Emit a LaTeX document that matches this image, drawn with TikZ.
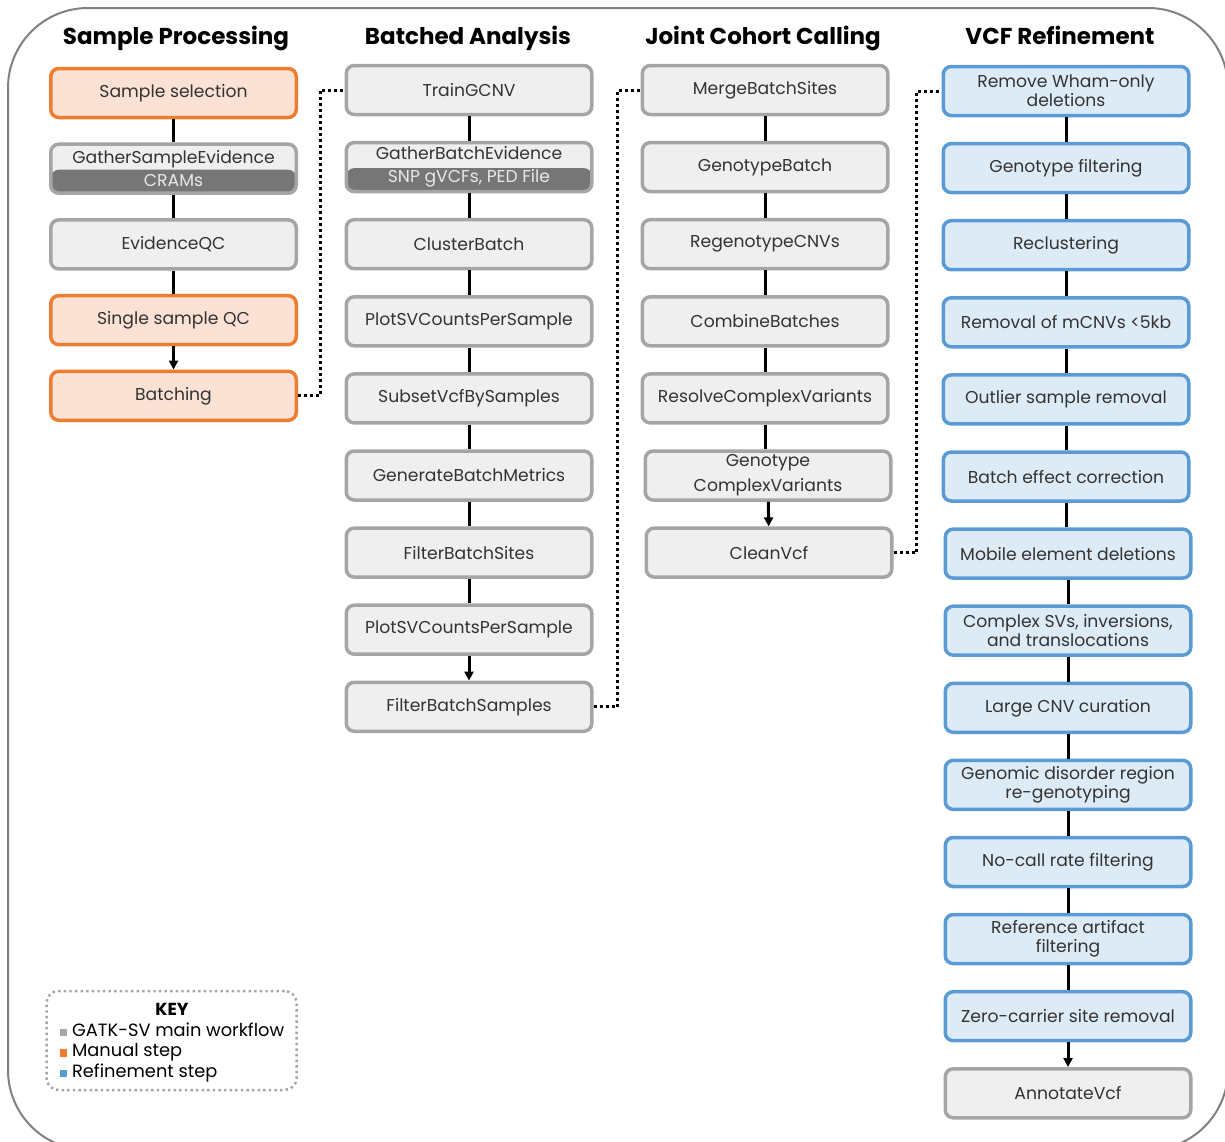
\documentclass[tikz,border=0pt]{standalone}
\usepackage{fontspec}
\setmainfont{Poppins}
\usetikzlibrary{arrows.meta,positioning}

\definecolor{manualedge}{HTML}{ED7D31}
\definecolor{manualfill}{HTML}{FBE2D5}
\definecolor{mainedge}{HTML}{A5A5A5}
\definecolor{mainfill}{HTML}{EFEFEF}
\definecolor{refineedge}{HTML}{5B9BD5}
\definecolor{refinefill}{HTML}{DDEBF7}
\definecolor{bandfill}{HTML}{767676}
\definecolor{bandtext}{HTML}{E8E8E8}
\definecolor{boxtext}{HTML}{333333}
\definecolor{framegray}{HTML}{808080}

\newcommand{\keymark}[1]{\textcolor{#1}{\rule{3.8pt}{3.8pt}}}

\tikzset{
  box/.style={draw, rounded corners=4pt, line width=1.75pt, minimum width=122.75pt,
    minimum height=24.5pt, inner sep=1pt, align=center, text=boxtext,
    font=\fontsize{8.6}{9.5}\selectfont},
  mainbox/.style={box, draw=mainedge, fill=mainfill},
  manualbox/.style={box, draw=manualedge, fill=manualfill},
  refinebox/.style={box, draw=refineedge, fill=refinefill},
  bandbox/.style={mainbox, font=\fontsize{8.6}{11.5}\selectfont,
    path picture={\fill[bandfill] (path picture bounding box.south west)
      rectangle ([yshift=-0.5pt]path picture bounding box.east);}},
  header/.style={font=\bfseries\fontsize{11.5}{13}\selectfont, text height=8.5pt, text depth=2.5pt},
  link/.style={line width=1.5pt},
  arrowlink/.style={link, -{Triangle[length=4.5pt,width=4.5pt]}},
  dotlink/.style={line width=1.5pt, dash pattern=on 1.5pt off 1.5pt},
  keybox/.style={draw=mainedge, line width=1.25pt, dash pattern=on 1.2pt off 1.6pt,
    rounded corners=6pt, minimum width=125pt, minimum height=49.5pt},
}

\begin{document}
\begin{tikzpicture}[x=0.5pt,y=-0.5pt,node distance=12.3pt]
 \useasboundingbox (0,0) rectangle (1225,1141);
 \draw[framegray, line width=1pt, rounded corners=40pt] (8,8) rectangle (1228,1150);
 %HEADERS
 \node[header] (hsp) at (176,38) {Sample Processing};
 \node[header] (hba) at (468,38) {Batched Analysis};
 \node[header] (hjc) at (763,38) {Joint Cohort Calling};
 \node[header] (hvr) at (1060,38) {VCF Refinement};
 %SAMPLE PROCESSING
 \node[manualbox] (sel) at (173.5,93) {Sample selection};
 \node[bandbox, below=11.6pt of sel] (gse) {GatherSampleEvidence\\\textcolor{bandtext}{CRAMs}};
 \node[mainbox, below=11.6pt of gse] (eqc) {EvidenceQC};
 \node[manualbox, below=11.6pt of eqc] (ssqc) {Single sample QC};
 \node[manualbox, below=11.6pt of ssqc] (batch) {Batching};
 %BATCHED ANALYSIS
 \node[mainbox] (tgcnv) at (469,90) {TrainGCNV};
 \node[bandbox, below=of tgcnv] (gbe) {GatherBatchEvidence\\\textcolor{bandtext}{SNP gVCFs, PED File}};
 \node[mainbox, below=of gbe] (clb) {ClusterBatch};
 \node[mainbox, below=of clb] (plota) {PlotSVCountsPerSample};
 \node[mainbox, below=of plota] (subset) {SubsetVcfBySamples};
 \node[mainbox, below=of subset] (gbm) {GenerateBatchMetrics};
 \node[mainbox, below=of gbm] (fsites) {FilterBatchSites};
 \node[mainbox, below=of fsites] (plotb) {PlotSVCountsPerSample};
 \node[mainbox, below=of plotb] (fsamp) {FilterBatchSamples};
 %JOINT COHORT CALLING
 \node[mainbox] (mbs) at (765,90) {MergeBatchSites};
 \node[mainbox, below=of mbs] (gtb) {GenotypeBatch};
 \node[mainbox, below=of gtb] (rgc) {RegenotypeCNVs};
 \node[mainbox, below=of rgc] (comb) {CombineBatches};
 \node[mainbox, below=of comb] (rcv) {ResolveComplexVariants};
 \node[mainbox, below=of rcv, xshift=1.5pt, font=\fontsize{8.6}{12.5}\selectfont] (gcv) {Genotype\\ComplexVariants};
 \node[mainbox, below=of gcv, xshift=0.5pt] (clean) {CleanVcf};
 %VCF REFINEMENT
 \node[refinebox] (wham) at (1066,91) {Remove Wham-only\\deletions};
 \node[refinebox, below=of wham] (gtf) {Genotype filtering};
 \node[refinebox, below=of gtf] (reclu) {Reclustering};
 \node[refinebox, below=of reclu] (mcnv) {Removal of mCNVs <5kb};
 \node[refinebox, below=of mcnv] (outl) {Outlier sample removal};
 \node[refinebox, below=of outl] (bfx) {Batch effect correction};
 \node[refinebox, below=of bfx, xshift=1pt] (mei) {Mobile element deletions};
 \node[refinebox, below=of mei] (cpx) {Complex SVs, inversions,\\and translocations};
 \node[refinebox, below=of cpx] (lcnv) {Large CNV curation};
 \node[refinebox, below=of lcnv] (gdr) {Genomic disorder region\\re-genotyping};
 \node[refinebox, below=of gdr] (nocall) {No-call rate filtering};
 \node[refinebox, below=of nocall] (refart) {Reference artifact\\filtering};
 \node[refinebox, below=of refart] (zero) {Zero-carrier site removal};
 \node[mainbox, below=of zero] (annot) {AnnotateVcf};
 %KEY
 \node[keybox] (key) at (171.5,1040.5) {};
 \node[font=\bfseries\fontsize{8.7}{10}\selectfont] (keyhead) at (172,1009) {KEY};
 \node[below=0pt of keyhead, align=left, inner sep=0pt,
   font=\fontsize{8.9}{10.3}\selectfont] (keyitems)
   {\keymark{mainedge} GATK-SV main workflow\\\keymark{manualedge} Manual step\\\keymark{refineedge} Refinement step};
 %EDGES
 \draw[link] (sel) -- (gse);
 \draw[link] (gse) -- (eqc);
 \draw[link] (eqc) -- (ssqc);
 \draw[arrowlink] (ssqc) -- (batch);
 \draw[link] (tgcnv) -- (gbe);
 \draw[link] (gbe) -- (clb);
 \draw[link] (clb) -- (plota);
 \draw[link] (plota) -- (subset);
 \draw[link] (subset) -- (gbm);
 \draw[link] (gbm) -- (fsites);
 \draw[link] (fsites) -- (plotb);
 \draw[arrowlink] (plotb) -- (fsamp);
 \draw[link] (mbs) -- (gtb);
 \draw[link] (gtb) -- (rgc);
 \draw[link] (rgc) -- (comb);
 \draw[link] (comb) -- (rcv);
 \draw[link] (rcv.south) -- (rcv.south |- gcv.north);
 \draw[arrowlink] (gcv) -- (clean);
 \draw[link] (wham) -- (gtf);
 \draw[link] (gtf) -- (reclu);
 \draw[link] (reclu) -- (mcnv);
 \draw[link] (mcnv) -- (outl);
 \draw[link] (outl) -- (bfx);
 \draw[link] (bfx.south) -- (bfx.south |- mei.north);
 \draw[link] (mei) -- (cpx);
 \draw[link] (cpx) -- (lcnv);
 \draw[link] (lcnv) -- (gdr);
 \draw[link] (gdr) -- (nocall);
 \draw[link] (nocall) -- (refart);
 \draw[link] (refart) -- (zero);
 \draw[arrowlink] (zero) -- (annot);
 %DOTTED LINKS
 \draw[dotlink] (batch.east) -- ++(22,0) |- (tgcnv.west);
 \draw[dotlink] (fsamp.east) -- ++(24,0) |- (mbs.west);
 \draw[dotlink] (clean.east) -- ++(23,0) |- (wham.west);
\end{tikzpicture}
\end{document}
